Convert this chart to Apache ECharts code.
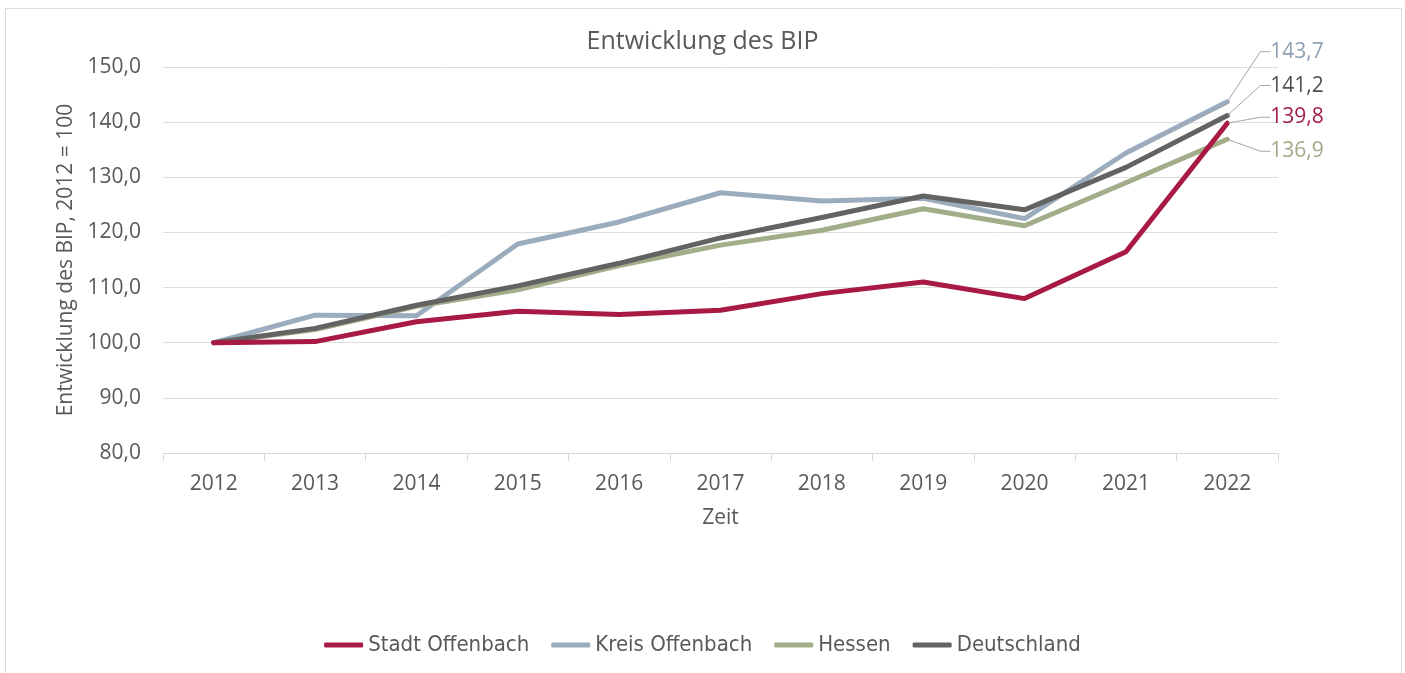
<!DOCTYPE html>
<html>
<head>
<meta charset="utf-8">
<script src="https://cdn.jsdelivr.net/npm/echarts@6/dist/echarts.min.js"></script>
<style>
html, body { margin: 0; padding: 0; background: #fff; }
#chart { width: 1405px; height: 673px; }
#frame { position: absolute; left: 5px; top: 8px; width: 1395px; height: 700px; border: 1px solid #dcdcdc; pointer-events: none; }
</style>
</head>
<body>
<div id="chart"></div>
<div id="frame"></div>
<script>
const years = ['2012', '2013', '2014', '2015', '2016', '2017', '2018', '2019', '2020', '2021', '2022'];
const stadtOffenbach = [100, 100.2, 103.8, 105.7, 105.1, 105.9, 108.9, 111.0, 108.0, 116.5, 139.8];
const kreisOffenbach = [100, 105.0, 104.9, 117.9, 121.9, 127.2, 125.7, 126.2, 122.5, 134.4, 143.7];
const hessen = [100, 102.4, 106.6, 109.6, 114.0, 117.7, 120.4, 124.3, 121.2, 129.0, 136.9];
const deutschland = [100, 102.6, 106.8, 110.3, 114.4, 119.0, 122.7, 126.6, 124.1, 131.8, 141.2];
const yTicks = [80, 90, 100, 110, 120, 130, 140, 150];

const textColor = '#595959';
const mainFont = "'Open Sans', sans-serif";
const narrowFont = "'DejaVu Sans Condensed', 'Liberation Sans Narrow', sans-serif";

function fmt(v) {
    return v.toFixed(1).replace('.', ',');
}

// only the last point gets a label, pushed to the right with a guide line
function makeSeries(name, values, color, labelColor, dy, z) {
    const last = values.length - 1;
    return {
        name: name,
        type: 'line',
        z: z,
        data: values.map(function (v, i) {
            if (i !== last) return v;
            return {value: v, label: {show: true}};
        }),
        symbol: 'circle',
        symbolSize: 2,
        showSymbol: true,
        itemStyle: {color: color},
        lineStyle: {color: color, width: 5, cap: 'round', join: 'round'},
        emphasis: {disabled: true},
        label: {
            show: false,
            position: 'right',
            color: labelColor,
            fontFamily: mainFont,
            fontSize: 21,
            fontWeight: 500,
            padding: [0, 0, 0, 5],
            formatter: function (p) { return fmt(p.value); }
        },
        labelLine: {
            show: true,
            length2: 10,
            lineStyle: {color: '#a6a6a6', width: 1}
        },
        labelLayout: function (params) {
            const cx = params.rect.x + params.rect.width / 2;
            const cy = params.rect.y + params.rect.height / 2;
            return {x: cx + 38, y: cy + dy, align: 'left', verticalAlign: 'middle'};
        }
    };
}

const chart = echarts.init(document.getElementById('chart'), null, {renderer: 'canvas'});
const option = {
    animation: false,
    backgroundColor: '#fff',
    title: {
        text: 'Entwicklung des BIP',
        left: 'center',
        top: 24,
        textStyle: {color: textColor, fontFamily: mainFont, fontSize: 25, fontWeight: 'normal'}
    },
    grid: {left: 163, right: 127, top: 67, bottom: 220},
    legend: {
        bottom: 12,
        left: 'center',
        icon: 'roundRect',
        itemWidth: 39,
        itemHeight: 5,
        itemGap: 22,
        textStyle: {color: textColor, fontFamily: narrowFont, fontSize: 22},
        data: ['Stadt Offenbach', 'Kreis Offenbach', 'Hessen', 'Deutschland']
    },
    xAxis: {
        type: 'category',
        data: years,
        boundaryGap: true,
        name: 'Zeit',
        nameLocation: 'middle',
        nameGap: 55,
        nameTextStyle: {color: textColor, fontFamily: mainFont, fontSize: 21, verticalAlign: 'top'},
        axisLine: {lineStyle: {color: '#d9d9d9', width: 1}},
        axisTick: {show: true, alignWithLabel: false, length: 8, lineStyle: {color: '#d9d9d9'}},
        axisLabel: {color: textColor, fontFamily: mainFont, fontSize: 21, margin: 21}
    },
    yAxis: {
        type: 'value',
        min: yTicks[0],
        max: yTicks[yTicks.length - 1],
        interval: 10,
        name: 'Entwicklung des BIP, 2012 = 100',
        nameLocation: 'middle',
        nameGap: 82,
        nameTextStyle: {color: textColor, fontFamily: mainFont, fontSize: 21},
        axisLine: {show: false},
        axisTick: {show: false},
        splitLine: {lineStyle: {color: '#dedede', width: 1}},
        axisLabel: {color: textColor, fontFamily: mainFont, fontSize: 21, margin: 22, formatter: fmt}
    },
    series: [
        makeSeries('Stadt Offenbach', stadtOffenbach, '#a81a43', '#a31d47', -6, 5),
        makeSeries('Kreis Offenbach', kreisOffenbach, '#9badbd', '#8ea1b5', -50, 2),
        makeSeries('Hessen', hessen, '#a2ae8a', '#a0aa88', 12, 3),
        makeSeries('Deutschland', deutschland, '#636363', '#505050', -30, 4)
    ]
};
chart.setOption(option);
</script>
</body>
</html>
